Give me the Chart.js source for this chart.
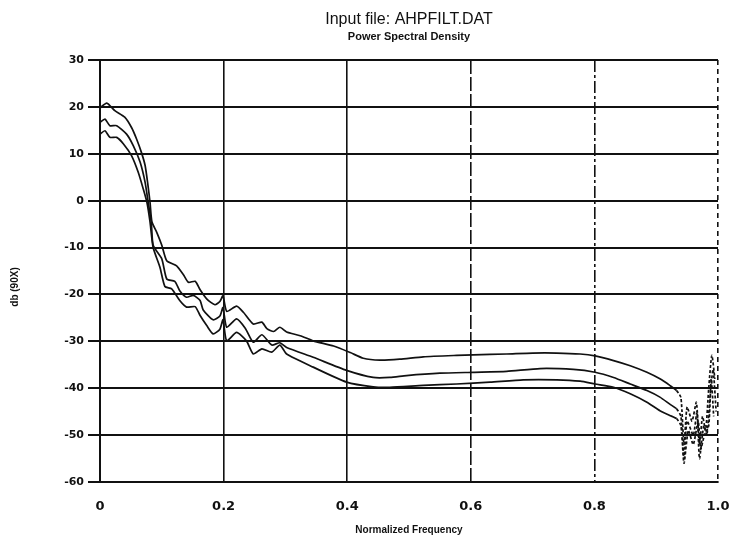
<!DOCTYPE html>
<html lang="en">
<head>
    <meta charset="UTF-8">
    <title>Input file: AHPFILT.DAT</title>
    <style>
        body {
            margin: 0;
            background-color: #ffffff;
        }
    </style>
    <script src="https://cdn.jsdelivr.net/npm/chart.js@4"></script>
</head>
<body>

    <canvas id="psdChart" width="733" height="542"></canvas>

    <script>
        // Readings taken off the plotted curves (normalized frequency, dB)
        const upperFreq = [0.000, 0.011, 0.024, 0.040, 0.051, 0.059, 0.067, 0.073, 0.077, 0.081, 0.084, 0.092, 0.100, 0.108, 0.124, 0.135, 0.143, 0.154, 0.162, 0.173, 0.186, 0.194, 0.199, 0.205, 0.221, 0.232, 0.248, 0.262, 0.270, 0.281, 0.291, 0.302, 0.324, 0.345, 0.378, 0.405, 0.426, 0.453, 0.485, 0.523, 0.577, 0.604, 0.658, 0.700, 0.739, 0.777, 0.801, 0.831, 0.858, 0.885, 0.906, 0.922, 0.933, 0.940, 0.945, 0.950, 0.958, 0.965, 0.970, 0.975, 0.980, 0.985, 0.990, 0.995];
        const upperDb = [19.8, 20.8, 19.2, 17.8, 15.6, 13.2, 10.3, 7.5, 3.9, -0.4, -4.5, -6.8, -9.5, -12.8, -13.9, -15.8, -17.4, -17.2, -19.0, -21.0, -22.2, -21.5, -20.3, -23.6, -22.5, -23.8, -26.3, -25.9, -27.3, -27.9, -27.0, -28.0, -28.8, -29.9, -31.0, -32.4, -33.6, -34.0, -33.8, -33.3, -33.0, -32.9, -32.7, -32.5, -32.5, -32.7, -33.1, -34.1, -35.2, -36.6, -38.0, -39.4, -40.5, -42.0, -52.0, -44.0, -47.0, -43.0, -52.0, -46.0, -49.0, -40.0, -33.0, -38.0];

        const middleFreq = [0.000, 0.008, 0.016, 0.027, 0.043, 0.054, 0.065, 0.073, 0.078, 0.083, 0.086, 0.100, 0.108, 0.121, 0.129, 0.140, 0.151, 0.162, 0.167, 0.183, 0.194, 0.199, 0.205, 0.221, 0.235, 0.248, 0.262, 0.278, 0.291, 0.302, 0.345, 0.399, 0.442, 0.469, 0.496, 0.550, 0.604, 0.658, 0.712, 0.766, 0.801, 0.831, 0.858, 0.885, 0.906, 0.922, 0.933, 0.940, 0.945, 0.950, 0.960, 0.966, 0.970, 0.977, 0.982, 0.987, 0.992, 0.997];
        const middleDb = [16.7, 17.4, 16.0, 16.0, 14.2, 11.7, 8.2, 3.9, -0.4, -4.6, -9.5, -12.4, -16.7, -17.2, -19.2, -20.6, -20.2, -21.3, -23.3, -25.4, -24.6, -22.8, -27.0, -25.2, -27.2, -30.2, -28.6, -30.8, -30.3, -31.3, -33.4, -36.2, -37.7, -37.7, -37.3, -36.8, -36.6, -36.4, -35.8, -36.0, -36.6, -37.7, -39.1, -40.5, -41.9, -43.4, -44.4, -46.0, -55.0, -47.0, -50.0, -45.0, -55.0, -48.0, -50.0, -42.0, -36.0, -45.0];

        const lowerFreq = [0.000, 0.008, 0.016, 0.027, 0.038, 0.051, 0.062, 0.070, 0.076, 0.081, 0.086, 0.097, 0.105, 0.116, 0.129, 0.140, 0.154, 0.162, 0.173, 0.183, 0.194, 0.199, 0.205, 0.221, 0.237, 0.248, 0.262, 0.278, 0.291, 0.302, 0.345, 0.399, 0.442, 0.469, 0.523, 0.577, 0.631, 0.685, 0.739, 0.777, 0.801, 0.831, 0.858, 0.885, 0.906, 0.922, 0.933, 0.940, 0.945, 0.952, 0.960, 0.968, 0.972, 0.978, 0.985, 0.989, 0.993];
        const lowerDb = [14.2, 14.9, 13.5, 13.5, 12.1, 9.6, 6.0, 2.5, -0.4, -4.6, -10.0, -14.2, -18.3, -18.8, -21.3, -22.7, -22.6, -24.5, -26.7, -28.4, -27.4, -25.4, -29.9, -28.1, -29.9, -32.7, -31.6, -32.3, -30.8, -32.7, -35.5, -38.7, -39.7, -39.8, -39.4, -39.1, -38.7, -38.2, -38.2, -38.5, -39.1, -39.8, -41.2, -43.0, -44.8, -45.8, -46.5, -48.0, -56.0, -49.0, -52.0, -47.0, -53.0, -50.0, -48.0, -38.0, -46.0];

        const xTickLabels = ['0', '0.2', '0.4', '0.6', '0.8', '1.0'];
        const mainTitle = 'Input file: AHPFILT.DAT';
        const subTitle = 'Power Spectral Density';
        const yTitle = 'db (90X)';

        const ink = '#111111';

        function toPoints(freqs, dbs) {
            return freqs.map((f, i) => ({ x: f, y: dbs[i] }));
        }

        function curve(freqs, dbs) {
            return {
                data: toPoints(freqs, dbs),
                showLine: true,
                borderColor: ink,
                borderWidth: 1.7,
                pointRadius: 0,
                tension: 0.2,
                // the tail past ~0.93 is broken up in the plot
                segment: {
                    borderDash: ctx => ctx.p0.parsed.x >= 0.933 ? [3, 2] : undefined
                }
            };
        }

        // Titles over the plot and the y label, which sits a bit below centre
        const titlePlugin = {
            id: 'plotTitles',
            afterDraw(chart) {
                const { ctx, chartArea } = chart;
                const cx = (chartArea.left + chartArea.right) / 2;
                ctx.save();
                ctx.fillStyle = ink;
                ctx.textAlign = 'center';
                ctx.textBaseline = 'alphabetic';
                ctx.font = '16px "Liberation Sans"';
                ctx.fillText(mainTitle, cx, 24);
                ctx.font = 'bold 11px "Liberation Sans"';
                ctx.fillText(subTitle, cx, 40);

                ctx.translate(15, (chartArea.top + chartArea.bottom) / 2 + 16);
                ctx.rotate(-Math.PI / 2);
                ctx.textBaseline = 'middle';
                ctx.font = 'bold 10px "Liberation Sans"';
                ctx.fillText(yTitle, 0, 0);
                ctx.restore();
            }
        };

        // dash style of each vertical grid line, as in the plot
        function verticalDash(ctx) {
            if (!ctx.tick) return [];
            const v = Math.round(ctx.tick.value * 10) / 10;
            if (v === 0.6) return [14, 3];
            if (v === 0.8) return [12, 3, 3, 3];
            if (v === 1) return [5, 4];
            return [];
        }

        const psdChart = new Chart(document.getElementById('psdChart').getContext('2d'), {
            type: 'scatter',
            data: {
                datasets: [
                    curve(upperFreq, upperDb),
                    curve(middleFreq, middleDb),
                    curve(lowerFreq, lowerDb)
                ]
            },
            options: {
                responsive: false,
                animation: false,
                devicePixelRatio: 1,
                layout: {
                    padding: { top: 60, right: 15, bottom: 0, left: 0 }
                },
                plugins: {
                    legend: { display: false },
                    tooltip: { enabled: false }
                },
                scales: {
                    x: {
                        type: 'linear',
                        min: 0,
                        max: 1,
                        ticks: {
                            stepSize: 0.2,
                            color: ink,
                            padding: 17,
                            font: { family: 'DejaVu Sans', weight: 'bold', size: 13 },
                            callback: (value, index) => xTickLabels[index]
                        },
                        grid: {
                            color: ink,
                            lineWidth: 1.6,
                            drawTicks: false
                        },
                        border: {
                            color: ink,
                            width: 2,
                            dash: verticalDash
                        },
                        title: {
                            display: true,
                            text: 'Normalized Frequency',
                            color: ink,
                            font: { family: 'Liberation Sans', weight: 'bold', size: 10 },
                            padding: { top: 0, bottom: 6 }
                        },
                        afterFit: scale => {
                            scale.height = 60;
                            scale.paddingLeft = 0;
                            scale.paddingRight = 0;
                        }
                    },
                    y: {
                        min: -60,
                        max: 30,
                        ticks: {
                            stepSize: 10,
                            color: ink,
                            padding: 4,
                            font: { family: 'DejaVu Sans', weight: 'bold', size: 11 }
                        },
                        grid: {
                            color: ink,
                            lineWidth: 2,
                            drawTicks: true,
                            tickLength: 12,
                            tickColor: ink,
                            tickWidth: 2
                        },
                        border: {
                            color: ink,
                            width: 2
                        },
                        afterFit: scale => {
                            scale.width = 100;
                            scale.paddingTop = 0;
                            scale.paddingBottom = 0;
                        }
                    }
                }
            },
            plugins: [titlePlugin]
        });
    </script>

</body>
</html>
